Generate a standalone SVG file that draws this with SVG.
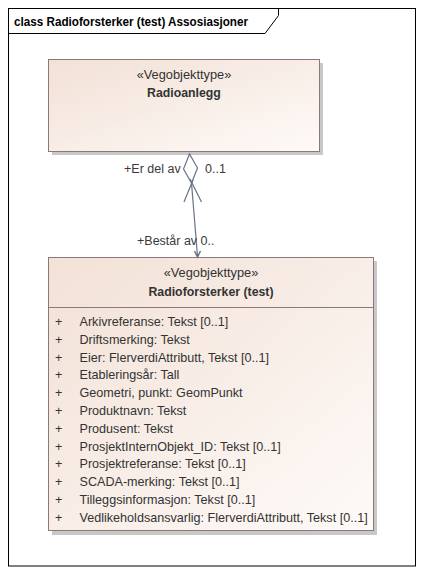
<svg xmlns="http://www.w3.org/2000/svg" width="423" height="575" viewBox="0 0 423 575">
<defs>
<linearGradient id="g" x1="0" y1="0" x2="1" y2="1">
<stop offset="0" stop-color="#f2e1d6"/>
<stop offset="1" stop-color="#fefaf8"/>
</linearGradient>
<style>
text{font-family:"Liberation Sans",Arial,sans-serif;fill:#333}
.st{font-size:12.8px;text-anchor:middle}
.nm{font-size:12.3px;font-weight:bold;text-anchor:middle}
.at{font-size:12.6px}
.lb{font-size:12.5px;fill:#3a3a3a}
.box{fill:url(#g);stroke:#8c7878;stroke-width:1}
.sh{fill:#c8c8c8}
.ln{stroke:#6a7388;stroke-width:1.2;fill:none}
</style>
</defs>
<rect x="0" y="0" width="423" height="575" fill="#ffffff"/>
<g id="frame">
<rect x="8.5" y="8.5" width="407" height="557.5" fill="none" stroke="#000" stroke-width="1"/>
<path d="M8.5,33.5 H265 L278.5,15.5 V8.5" fill="none" stroke="#000" stroke-width="1"/>
<text x="14" y="26" style="font-size:12.5px;font-weight:bold;fill:#000" textLength="234" lengthAdjust="spacingAndGlyphs">class Radioforsterker (test) Assosiasjoner</text>
</g>
<g id="Radioanlegg">
<rect class="sh" x="52" y="63" width="271" height="92"/>
<rect class="box" x="48.5" y="59.5" width="271" height="92"/>
<text class="st" x="184" y="79">«Vegobjekttype»</text>
<text class="nm" x="184" y="97">Radioanlegg</text>
</g>
<g id="Radioforsterker">
<rect class="sh" x="52" y="261" width="325" height="274"/>
<rect class="box" x="48.5" y="257.5" width="325" height="273"/>
<line x1="48.5" y1="307.5" x2="373.5" y2="307.5" stroke="#8c7878"/>
<text class="st" x="211" y="277">«Vegobjekttype»</text>
<text class="nm" x="211" y="296">Radioforsterker (test)</text>
<g class="at">
<text x="55" y="326">+</text><text x="79.5" y="326">Arkivreferanse: Tekst [0..1]</text>
<text x="55" y="343.8">+</text><text x="79.5" y="343.8">Driftsmerking: Tekst</text>
<text x="55" y="361.6">+</text><text x="79.5" y="361.6">Eier: FlerverdiAttributt, Tekst [0..1]</text>
<text x="55" y="379.4">+</text><text x="79.5" y="379.4">Etableringsår: Tall</text>
<text x="55" y="397.2">+</text><text x="79.5" y="397.2">Geometri, punkt: GeomPunkt</text>
<text x="55" y="415">+</text><text x="79.5" y="415">Produktnavn: Tekst</text>
<text x="55" y="432.8">+</text><text x="79.5" y="432.8">Produsent: Tekst</text>
<text x="55" y="450.6">+</text><text x="79.5" y="450.6">ProsjektInternObjekt_ID: Tekst [0..1]</text>
<text x="55" y="468.4">+</text><text x="79.5" y="468.4">Prosjektreferanse: Tekst [0..1]</text>
<text x="55" y="486.2">+</text><text x="79.5" y="486.2">SCADA-merking: Tekst [0..1]</text>
<text x="55" y="504">+</text><text x="79.5" y="504">Tilleggsinformasjon: Tekst [0..1]</text>
<text x="55" y="521.8">+</text><text x="79.5" y="521.8">Vedlikeholdsansvarlig: FlerverdiAttributt, Tekst [0..1]</text>
</g>
</g>
<g id="connectors">
<path class="ln" d="M191.5,183 L197.5,256"/>
<path d="M189.5,154 L183.5,169 L191.5,183 L197.5,168 Z" fill="#fff" stroke="#6a7388" stroke-width="1.2"/>
<path class="ln" d="M184,202 L193,180 M201.5,202 L190,179"/>
<path d="M194.5,251 L197.5,257 L200.5,251" fill="none" stroke="#6a7388" stroke-width="1.5"/>
<text class="lb" x="124" y="173">+Er del av</text>
<text class="lb" x="205" y="173">0..1</text>
<text class="lb" x="137" y="245">+Består av 0..</text>
</g>
</svg>
